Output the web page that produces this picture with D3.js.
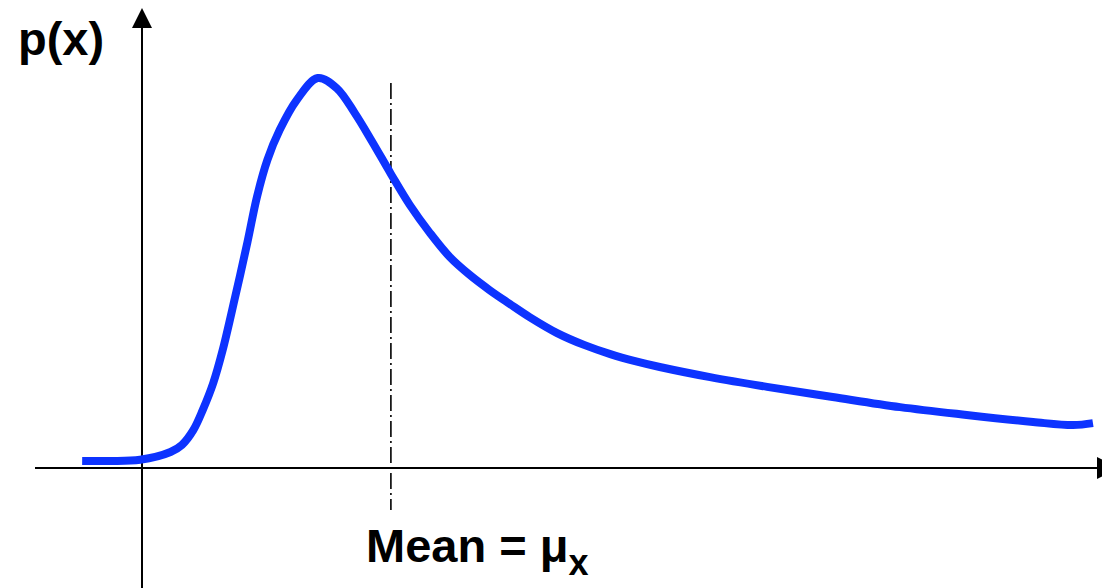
<!DOCTYPE html>
<html>
<head>
<meta charset="utf-8">
<script src="https://cdn.jsdelivr.net/npm/d3@7"></script>
<style>
  html, body { margin: 0; padding: 0; background: #fff; }
  svg { display: block; }
  text { font-family: "Liberation Sans", Arial, sans-serif; font-weight: bold; fill: #000; }
</style>
</head>
<body>
<script>
// Skewed probability density p(x), sampled along x
const xValues = [-0.63, -0.34, -0.02, 0.30, 0.42, 0.54, 0.64, 0.75, 0.85, 0.98, 1.11, 1.21, 1.32,
                 1.45, 1.63, 1.85, 2.05, 2.24, 2.42, 2.62, 2.82, 3.03, 3.24, 3.45, 3.66, 3.87,
                 4.08, 4.37, 4.66, 4.93, 5.19, 5.45, 5.98, 6.58, 7.27, 7.98, 8.68, 9.38, 9.80, 10.01];
const pValues = [0.018, 0.018, 0.021, 0.041, 0.059, 0.097, 0.149, 0.218, 0.303, 0.438, 0.579, 0.695, 0.790,
                 0.867, 0.944, 1.000, 0.974, 0.910, 0.838, 0.754, 0.674, 0.603, 0.541, 0.495, 0.456, 0.421,
                 0.387, 0.346, 0.315, 0.292, 0.274, 0.259, 0.233, 0.208, 0.182, 0.156, 0.136, 0.118, 0.110, 0.115];
const meanX = 2.62;
const yAxisLabel = "p(x)";
const meanLabel = "Mean = μ";
const meanSubscript = "x";

const W = 1102, H = 588;
const svg = d3.select("body").append("svg").attr("width", W).attr("height", H);

const x = d3.scaleLinear().domain([0, 10]).range([142, 1092]);
const y = d3.scaleLinear().domain([0, 1]).range([468, 78]);

const data = xValues.map((v, i) => ({ x: v, p: pValues[i] }));

// Horizontal axis with arrowhead
svg.append("line")
  .attr("x1", 35).attr("x2", 1098)
  .attr("y1", y(0)).attr("y2", y(0))
  .attr("stroke", "#000").attr("stroke-width", 2);
svg.append("path")
  .attr("d", `M1097,${y(0) - 11} L1118,${y(0)} L1097,${y(0) + 11} Z`)
  .attr("fill", "#000");

// Vertical axis with arrowhead
svg.append("line")
  .attr("x1", x(0)).attr("x2", x(0))
  .attr("y1", H).attr("y2", 26)
  .attr("stroke", "#000").attr("stroke-width", 2);
svg.append("path")
  .attr("d", `M${x(0) - 10},28 L${x(0)},8 L${x(0) + 10},28 Z`)
  .attr("fill", "#000");

// Mean marker (dash-dot)
svg.append("line")
  .attr("x1", x(meanX)).attr("x2", x(meanX))
  .attr("y1", 83).attr("y2", 510)
  .attr("stroke", "#000").attr("stroke-width", 1.6)
  .attr("stroke-dasharray", "16,4,2,4");

// Density curve
const line = d3.line()
  .x(d => x(d.x))
  .y(d => y(d.p))
  .curve(d3.curveCatmullRom.alpha(0.5));

svg.append("path")
  .datum(data)
  .attr("d", line)
  .attr("fill", "none")
  .attr("stroke", "#0d33ff")
  .attr("stroke-width", 8)
  .attr("stroke-linejoin", "round");

// Labels
svg.append("text")
  .attr("x", 18).attr("y", 55)
  .attr("font-size", 47)
  .text(yAxisLabel);

const mt = svg.append("text")
  .attr("x", 366).attr("y", 562)
  .attr("font-size", 47);
mt.append("tspan").text(meanLabel);
mt.append("tspan")
  .attr("font-size", 36)
  .attr("dy", 13)
  .text(meanSubscript);
</script>
</body>
</html>
